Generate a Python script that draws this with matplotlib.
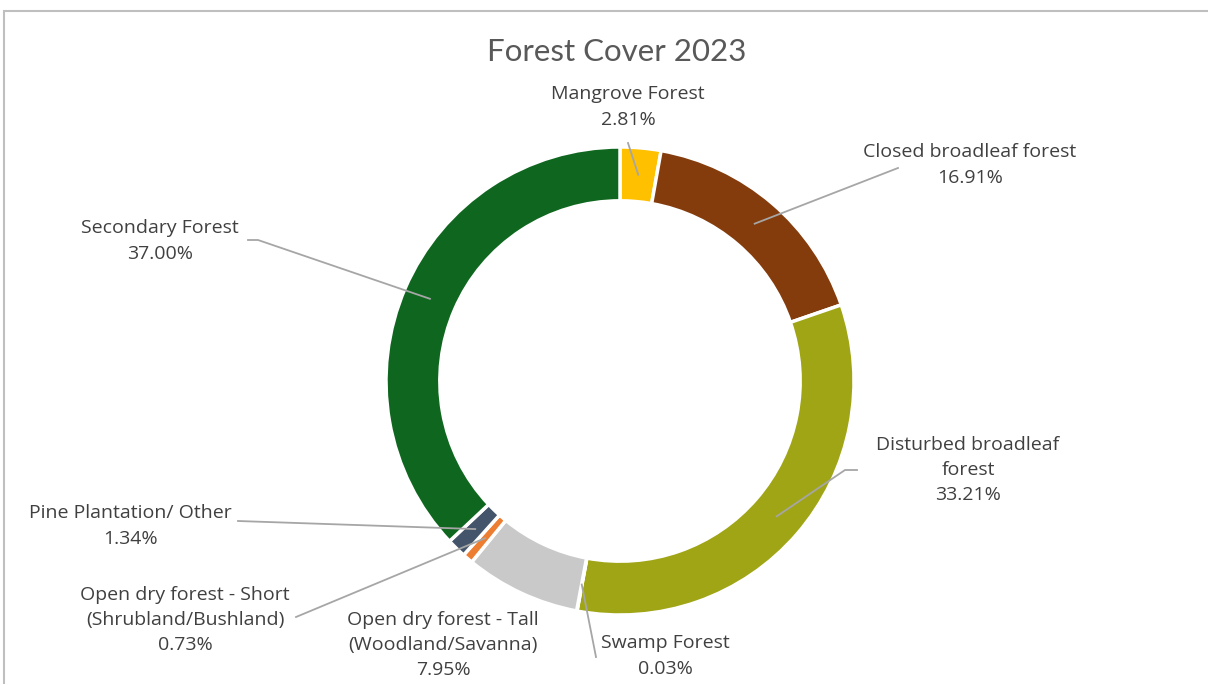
import numpy as np
import matplotlib
matplotlib.use('Agg')
import matplotlib.pyplot as plt
from matplotlib.patches import Rectangle

# data
labels = ['Mangrove Forest', 'Closed broadleaf forest', 'Disturbed broadleaf\nforest',
          'Swamp Forest', 'Open dry forest - Tall\n(Woodland/Savanna)',
          'Open dry forest - Short\n(Shrubland/Bushland)', 'Pine Plantation/ Other',
          'Secondary Forest']
shares = [2.81, 16.91, 33.21, 0.03, 7.95, 0.73, 1.34, 37.00]
colors = ['#FFC000', '#843C0C', '#A0A516', '#5B9BD5', '#C9C9C9', '#ED7D31',
          '#44546A', '#0F671F']

plt.rcParams['font.family'] = ['Open Sans', 'DejaVu Sans']
TXT = '#404040'

W, H = 1208, 684
CX, CY, R = 620, 381, 234  # pixel centre / radius of the ring


def px(x, y):
    """pixel coords -> data coords (ring centre at 0, radius 1)"""
    return (x - CX) / R, (CY - y) / R


fig = plt.figure(figsize=(W / 100, H / 100), dpi=100)
fig.patch.set_facecolor('white')
fig.patches.append(Rectangle((4 / W, -0.01), 1.2, 1 - 11 / H + 0.01,
                             transform=fig.transFigure, fill=False,
                             edgecolor='#BFBFBF', linewidth=1.5))
ax = fig.add_axes([0, 0, 1, 1])
wedges, _ = ax.pie(shares, colors=colors, startangle=90, counterclock=False,
                   radius=1.0, wedgeprops=dict(width=0.23, edgecolor='white',
                                               linewidth=2.5))
ax.set_xlim(-CX / R, (W - CX) / R)
ax.set_ylim((CY - H) / R, CY / R)
ax.set_aspect('equal')
ax.axis('off')

ax.text(*px(617, 52), 'Forest Cover 2023', ha='center', va='center',
        fontsize=22.5, color='#595959', family=['Lato', 'DejaVu Sans'])

# label text centre (px), line points from label side (px)
label_pos = [(628, 107), (970, 165), (968, 470), (665, 656), (443, 645),
             (185, 620), (130, 526), (160, 241)]
line_pts = [[(628, 143)],
            [(898, 168)],
            [(857, 470), (845, 470)],
            [(596, 657)],
            None,
            [(296, 617)],
            [(238, 521)],
            [(248, 240), (258, 240)]]

for w, lab, val, pos, pts in zip(wedges, labels, shares, label_pos, line_pts):
    ax.text(*px(*pos), f'{lab}\n{val:.2f}%', ha='center', va='center',
            fontsize=14, color=TXT, linespacing=1.52)
    if pts is None:
        continue
    ang = np.deg2rad((w.theta1 + w.theta2) / 2)
    rr = 0.885
    xs = [px(*p)[0] for p in pts] + [rr * np.cos(ang)]
    ys = [px(*p)[1] for p in pts] + [rr * np.sin(ang)]
    ax.plot(xs, ys, color='#A6A6A6', linewidth=1.3, zorder=5)

fig.savefig('out.png', dpi=100)
